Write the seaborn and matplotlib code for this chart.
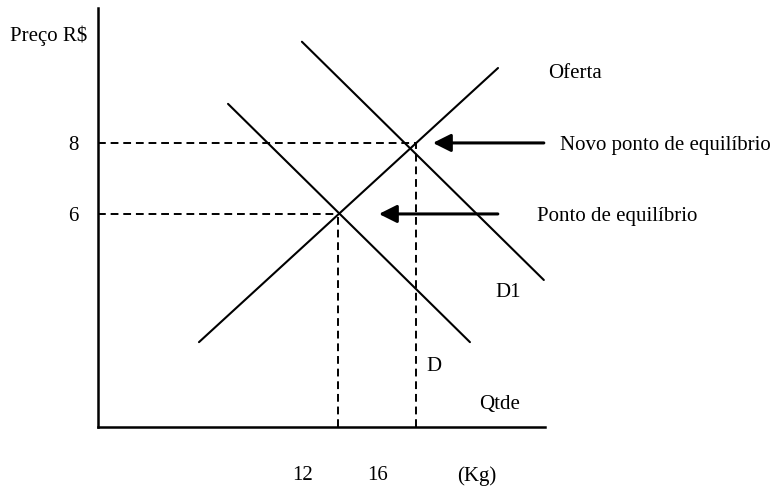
import pandas as pd
import numpy as np
import matplotlib.pyplot as plt
import seaborn as sns

# curve end points (quantity, price)
oferta_q = [4.87, 20.21]
oferta_p = [2.39, 10.11]
demanda_q = [6.36, 18.77]
demanda_p = [9.10, 2.39]
demanda1_q = [10.15, 22.56]
demanda1_p = [10.85, 4.14]

# equilibrium points
eq_q = [12, 16]
eq_p = [6, 8]
eq_labels = ["Ponto de equilíbrio", "Novo ponto de equilíbrio"]
x_labels = ["12", "16", "(Kg)"]

sns.set_style("white")
plt.rcParams['font.family'] = ['Liberation Serif', 'DejaVu Serif']
plt.rcParams['text.color'] = 'black'
plt.rcParams['ytick.color'] = 'black'

fig = plt.figure(figsize=(7.77, 4.90), dpi=100)
ax = fig.add_axes([98/777, 63/490, 447/777, 419/490])
ax.set_xlim(-0.31, 22.62)
ax.set_ylim(0, 11.8)

# supply / demand lines
for xs, ys in [(oferta_q, oferta_p), (demanda_q, demanda_p), (demanda1_q, demanda1_p)]:
    sns.lineplot(x=xs, y=ys, ax=ax, color="black", lw=1.5, sort=False, estimator=None)

# dashed guides to equilibrium points
for q, p in zip(eq_q, eq_p):
    ax.plot([-0.31, q], [p, p], color="black", lw=1.4, ls=(0, (4, 2.5)))
    ax.plot([q, q], [0, p], color="black", lw=1.4, ls=(0, (4, 2.5)))

# arrows + labels
arrow_tail = [20.2, 22.56]
arrow_head = [14.1, 16.87]
label_x = [22.2, 23.38]
for p, t, h, lx, lab in zip(eq_p, arrow_tail, arrow_head, label_x, eq_labels):
    ax.annotate("", xy=(h, p), xytext=(t, p), annotation_clip=False,
                arrowprops=dict(arrowstyle="-|>,head_length=0.54,head_width=0.27",
                                mutation_scale=20, lw=2.2, color="black",
                                shrinkA=0, shrinkB=0))
    ax.text(lx, p, lab, fontsize=15, va="center_baseline", ha="left")

ax.text(22.8, 10.03, "Oferta", fontsize=15, va="center_baseline", ha="left")
ax.text(20.05, 3.86, "D1", fontsize=15, va="center_baseline", ha="left")
ax.text(16.51, 1.77, "D", fontsize=15, va="center_baseline", ha="left")
ax.text(19.23, 0.70, "Qtde", fontsize=15, va="center_baseline", ha="left")
ax.text(-4.82, 11.1, "Preço R$", fontsize=15, va="center_baseline", ha="left")

for xpos, lab in zip([10.2, 14.05, 19.13], x_labels):
    ax.text(xpos, -1.30, lab, fontsize=15, va="center_baseline", ha="center")

ax.set_yticks(eq_p)
ax.set_yticklabels([str(p) for p in eq_p], fontsize=15, va="center_baseline")
ax.tick_params(axis="y", length=0, pad=14)
ax.set_xticks([])

sns.despine(ax=ax)
for s in ["left", "bottom"]:
    ax.spines[s].set_linewidth(1.8)
    ax.spines[s].set_color("black")

fig.savefig("out.png", dpi=100)
